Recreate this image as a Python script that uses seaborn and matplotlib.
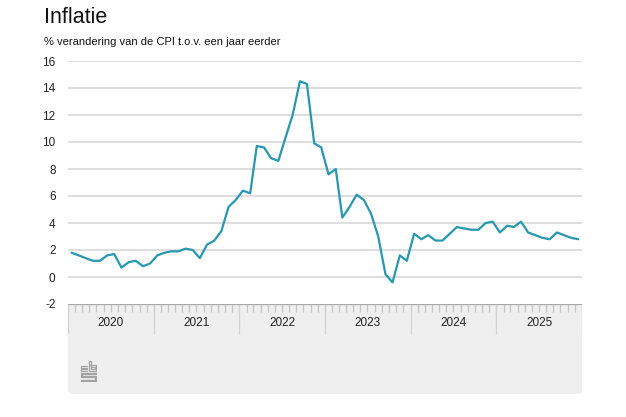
import matplotlib
matplotlib.use("Agg")
import matplotlib.pyplot as plt
from matplotlib.patches import FancyBboxPatch
import numpy as np
import pandas as pd
import seaborn as sns

# ---- data ----
start_month = "2020-01-01"
inflation = [
    1.8, 1.6, 1.4, 1.2, 1.2, 1.6, 1.7, 0.7, 1.1, 1.2, 0.8, 1.0,   # 2020
    1.6, 1.8, 1.9, 1.9, 2.1, 2.0, 1.4, 2.4, 2.7, 3.4, 5.2, 5.7,   # 2021
    6.4, 6.2, 9.7, 9.6, 8.8, 8.6, 10.3, 12.0, 14.5, 14.3, 9.9, 9.6,  # 2022
    7.6, 8.0, 4.4, 5.2, 6.1, 5.7, 4.7, 3.0, 0.2, -0.4, 1.6, 1.2,  # 2023
    3.2, 2.8, 3.1, 2.7, 2.7, 3.2, 3.7, 3.6, 3.5, 3.5, 4.0, 4.1,   # 2024
    3.3, 3.8, 3.7, 4.1, 3.3, 3.1, 2.9, 2.8, 3.3, 3.1, 2.9, 2.8,   # 2025
]
years = [2020, 2021, 2022, 2023, 2024, 2025]
yticks = [-2, 0, 2, 4, 6, 8, 10, 12, 14, 16]
title = "Inflatie"
subtitle = "% verandering van de CPI t.o.v. een jaar eerder"

months = pd.date_range(start_month, periods=len(inflation), freq="MS")
df = pd.DataFrame({"maand": months + pd.Timedelta(days=15), "cpi": inflation})

sns.set_theme(style="white")
plt.rcParams["font.family"] = ["Liberation Sans", "DejaVu Sans"]

W, H = 626, 417
fig = plt.figure(figsize=(W / 100, H / 100), dpi=100)
fig.patch.set_facecolor("white")

def fx(px):
    return px / W

def fy(py):
    return 1 - py / H

left, right = 68, 582
top, bottom = 61, 304

# ---- bottom panel background ----
pb_top, pb_bot = 304, 394
panel = FancyBboxPatch((fx(left), fy(pb_bot)), fx(right - left), fy(pb_top) - fy(pb_bot),
                       boxstyle="round,pad=0,rounding_size=0.008",
                       transform=fig.transFigure, facecolor="#efefef",
                       edgecolor="none", zorder=-5)
fig.patches.append(panel)

ax = fig.add_axes([fx(left), fy(bottom), fx(right - left), fy(top) - fy(bottom)])
ax.set_facecolor("none")
ax.set_zorder(2)

sns.lineplot(data=df, x="maand", y="cpi", ax=ax, color="#2797b2", linewidth=1.6)

x0 = pd.Timestamp(f"{years[0]}-01-01")
x1 = pd.Timestamp(f"{years[-1] + 1}-01-01")
ax.set_xlim(x0, x1)
ax.set_ylim(-2, 16)
ax.set_yticks(yticks)
ax.set_yticklabels([str(t) for t in yticks], fontsize=8.5, color="#222222")
ax.set_xticks([])
ax.set_xlabel("")
ax.set_ylabel("")
for s in ax.spines.values():
    s.set_visible(False)
ax.tick_params(axis="y", length=0, pad=9)
for t in yticks[1:]:
    ax.axhline(t, color="#dedede", linewidth=1.4, zorder=0)

ax2 = fig.add_axes([fx(left), fy(pb_bot), fx(right - left), fy(pb_top) - fy(pb_bot)])
ax2.set_facecolor("none")
ax2.set_zorder(1)
for s in ax2.spines.values():
    s.set_visible(False)
ax2.set_xlim(x0, x1)
ax2.set_ylim(0, 1)
ax2.set_xticks([])
ax2.set_yticks([])
ph = pb_bot - pb_top
month_edges = pd.date_range(x0, x1, freq="MS")
ax2.vlines(month_edges, 1 - 8 / ph, 1, color="#c4c4c4", linewidth=0.9)
year_edges = [pd.Timestamp(f"{y}-01-01") for y in years + [years[-1] + 1]]
ax2.vlines(year_edges, 1 - 30 / ph, 1, color="#d2d2d2", linewidth=0.9)
ax2.axhline(1, color="#a8a8a8", linewidth=1.6)
for y in years:
    mid = pd.Timestamp(f"{y}-07-02")
    ax2.text(mid, 1 - 19 / ph, str(y), ha="center", va="center", fontsize=8.5, color="#222222")

# CBS logo (simple line drawing)
lg = fig.add_axes([fx(80), fy(382), fx(17), fy(360) - fy(382)])
lg.set_zorder(3)
lg.set_xlim(0, 10)
lg.set_ylim(0, 13)
lg.axis("off")
lc = dict(color="#a3a3a3", linewidth=0.9)
# c
lg.plot([4.3, 0.3, 0.3, 4.3], [9.3, 9.3, 6.6, 6.6], **lc)
lg.plot([4.3, 1.3, 1.3, 4.3], [8.4, 8.4, 7.5, 7.5], **lc)
# b
lg.plot([5.5, 5.5, 9.7, 9.7, 5.5], [12.7, 6.6, 6.6, 10.0, 10.0], **lc)
lg.plot([6.4, 6.4, 8.8, 8.8, 6.4], [12.7, 7.5, 7.5, 9.1, 9.1], **lc)
lg.plot([5.5, 6.4], [12.7, 12.7], **lc)
# s
lg.plot([9.7, 0.3, 0.3, 8.8, 8.8, 0.3], [5.6, 5.6, 2.8, 2.8, 1.2, 1.2], **lc)
lg.plot([9.7, 1.2, 1.2, 9.7, 9.7, 0.3, 0.3], [4.7, 4.7, 3.7, 3.7, 0.3, 0.3, 1.2], **lc)
lg.plot([9.7, 9.7], [5.6, 4.7], **lc)

fig.text(fx(44), fy(17.5), title, ha="left", va="center", fontsize=15.5, color="#111111")
fig.text(fx(44), fy(42), subtitle, ha="left", va="center", fontsize=8.0, color="#111111")

fig.savefig("out.png", dpi=100)
